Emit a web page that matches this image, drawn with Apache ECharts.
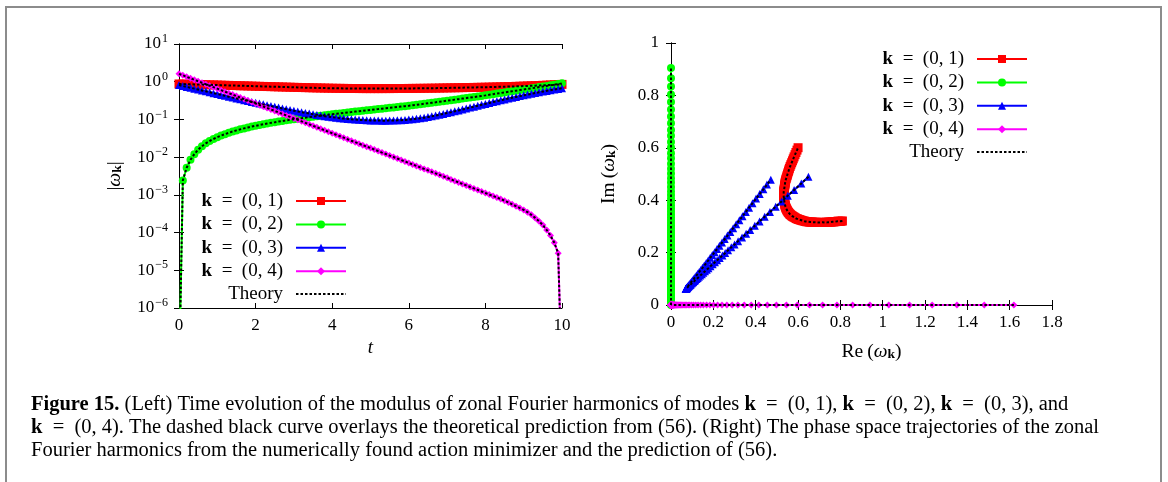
<!DOCTYPE html>
<html>
<head>
<meta charset="utf-8">
<script src="https://cdn.jsdelivr.net/npm/echarts@6/dist/echarts.min.js"></script>
<style>
  html, body { margin: 0; padding: 0; background: #fff; }
  #chart { width: 1168px; height: 482px; }
</style>
</head>
<body>
<div id="chart"></div>
<script>
// Sampling times t
const times = [
  0, 0.1, 0.2, 0.3, 0.4, 0.5, 0.6, 0.7, 0.8, 0.9,
  1, 1.1, 1.2, 1.3, 1.4, 1.5, 1.6, 1.7, 1.8, 1.9,
  2, 2.1, 2.2, 2.3, 2.4, 2.5, 2.6, 2.7, 2.8, 2.9,
  3, 3.1, 3.2, 3.3, 3.4, 3.5, 3.6, 3.7, 3.8, 3.9,
  4, 4.1, 4.2, 4.3, 4.4, 4.5, 4.6, 4.7, 4.8, 4.9,
  5, 5.1, 5.2, 5.3, 5.4, 5.5, 5.6, 5.7, 5.8, 5.9,
  6, 6.1, 6.2, 6.3, 6.4, 6.5, 6.6, 6.7, 6.8, 6.9,
  7, 7.1, 7.2, 7.3, 7.4, 7.5, 7.6, 7.7, 7.8, 7.9,
  8, 8.1, 8.2, 8.3, 8.4, 8.5, 8.6, 8.7, 8.8, 8.9,
  9, 9.1, 9.2, 9.3, 9.4, 9.5, 9.6, 9.7, 9.8, 9.9,
  10
];

// |omega_k| for k = (0,1)
const mod01 = [
  0.871, 0.865, 0.860, 0.854, 0.849, 0.843, 0.838, 0.832, 0.827, 0.821,
  0.816, 0.810, 0.804, 0.799, 0.793, 0.788, 0.782, 0.777, 0.771, 0.766,
  0.760, 0.755, 0.750, 0.745, 0.740, 0.735, 0.730, 0.725, 0.720, 0.715,
  0.710, 0.706, 0.701, 0.697, 0.693, 0.689, 0.685, 0.682, 0.678, 0.675,
  0.672, 0.669, 0.667, 0.665, 0.663, 0.661, 0.660, 0.659, 0.658, 0.657,
  0.657, 0.657, 0.657, 0.657, 0.658, 0.658, 0.659, 0.660, 0.661, 0.662,
  0.664, 0.665, 0.667, 0.668, 0.670, 0.672, 0.674, 0.676, 0.679, 0.682,
  0.685, 0.688, 0.691, 0.694, 0.697, 0.700, 0.703, 0.706, 0.709, 0.712,
  0.715, 0.719, 0.723, 0.728, 0.733, 0.738, 0.743, 0.748, 0.754, 0.759,
  0.765, 0.772, 0.779, 0.787, 0.795, 0.803, 0.811, 0.820, 0.829, 0.839,
  0.849
];
// phase of omega_k (degrees) for k = (0,1)
const phase01 = [
  21.6, 21.7, 21.8, 22.0, 22.1, 22.2, 22.3, 22.4, 22.6, 22.7,
  22.8, 23.0, 23.1, 23.3, 23.4, 23.6, 23.8, 23.9, 24.1, 24.3,
  24.5, 24.7, 24.9, 25.1, 25.3, 25.5, 25.7, 25.9, 26.2, 26.4,
  26.7, 27.0, 27.3, 27.6, 27.9, 28.2, 28.5, 28.8, 29.1, 29.5,
  29.9, 30.2, 30.5, 30.8, 31.1, 31.5, 31.8, 32.1, 32.5, 32.8,
  33.2, 33.5, 33.8, 34.1, 34.4, 34.7, 35.0, 35.2, 35.5, 35.7,
  36.0, 36.3, 36.6, 36.9, 37.2, 37.5, 37.8, 38.1, 38.4, 38.7,
  39.0, 39.2, 39.4, 39.6, 39.8, 40.0, 40.2, 40.4, 40.6, 40.8,
  41.0, 41.2, 41.4, 41.6, 41.8, 42.0, 42.2, 42.4, 42.6, 42.8,
  43.0, 43.2, 43.4, 43.6, 43.8, 44.0, 44.2, 44.4, 44.6, 44.8,
  45.0
];

// |omega_k| for k = (0,2)  (purely imaginary mode)
const mod02 = [
  1e-8, 0.00240, 0.00525, 0.00851, 0.0120, 0.0158, 0.0195, 0.0232, 0.0268, 0.0303,
  0.0339, 0.0373, 0.0407, 0.0443, 0.0478, 0.0512, 0.0546, 0.0579, 0.0612, 0.0646,
  0.0679, 0.0711, 0.0745, 0.0778, 0.0811, 0.0843, 0.0877, 0.0910, 0.0944, 0.0977,
  0.1012, 0.1045, 0.1079, 0.1114, 0.1148, 0.1183, 0.1219, 0.1256, 0.1294, 0.1330,
  0.1368, 0.1406, 0.1445, 0.1486, 0.1528, 0.1570, 0.1614, 0.1656, 0.1698, 0.1742,
  0.1786, 0.1832, 0.1879, 0.1928, 0.1977, 0.2028, 0.2080, 0.2133, 0.2188, 0.2244,
  0.2301, 0.2366, 0.2432, 0.2512, 0.2594, 0.2679, 0.2767, 0.2851, 0.2944, 0.3041,
  0.3141, 0.3243, 0.3350, 0.3451, 0.3565, 0.3681, 0.3802, 0.3926, 0.4055, 0.4198,
  0.4345, 0.4508, 0.4677, 0.4842, 0.5023, 0.5200, 0.5395, 0.5598, 0.5794, 0.6012,
  0.6223, 0.6457, 0.6683, 0.6934, 0.7194, 0.7464, 0.7745, 0.8035, 0.8337, 0.8650,
  0.905
];

// |omega_k| for k = (0,3)
const mod03 = [
  0.813, 0.771, 0.729, 0.692, 0.655, 0.621, 0.587, 0.556, 0.526, 0.498,
  0.471, 0.447, 0.423, 0.400, 0.379, 0.360, 0.341, 0.324, 0.308, 0.292,
  0.277, 0.264, 0.251, 0.238, 0.226, 0.216, 0.206, 0.196, 0.187, 0.178,
  0.170, 0.163, 0.156, 0.149, 0.143, 0.137, 0.132, 0.127, 0.122, 0.118,
  0.1146, 0.1112, 0.1081, 0.1054, 0.1030, 0.1009, 0.0991, 0.0975, 0.0961, 0.0951,
  0.0942, 0.0935, 0.0931, 0.0929, 0.0929, 0.0931, 0.0938, 0.0946, 0.0955, 0.0970,
  0.0989, 0.1012, 0.1040, 0.1074, 0.1114, 0.1159, 0.1208, 0.1265, 0.1327, 0.1396,
  0.1472, 0.1552, 0.1641, 0.1734, 0.1832, 0.1941, 0.2056, 0.2178, 0.2307, 0.2443,
  0.2582, 0.2729, 0.2884, 0.3048, 0.3214, 0.3388, 0.3573, 0.3758, 0.3954, 0.4150,
  0.4355, 0.4571, 0.4786, 0.5012, 0.5236, 0.5470, 0.5715, 0.5957, 0.6209, 0.6457,
  0.6714
];
// phase of omega_k (degrees) for k = (0,3)
const phase03 = [
  37.0, 37.0, 37.05, 37.1, 37.1, 37.2, 37.2, 37.25, 37.3, 37.35,
  37.4, 37.45, 37.5, 37.55, 37.6, 37.7, 37.75, 37.8, 37.9, 38.0,
  38.1, 38.2, 38.3, 38.4, 38.5, 38.6, 38.7, 38.8, 38.9, 39.05,
  39.2, 39.3, 39.4, 39.5, 39.6, 39.8, 39.9, 40.0, 40.1, 40.25,
  40.4, 40.5, 40.6, 40.7, 40.8, 40.9, 40.95, 41.0, 41.05, 41.1,
  41.1, 41.15, 41.2, 41.2, 41.25, 41.3, 41.3, 41.35, 41.4, 41.4,
  41.45, 41.6, 41.75, 41.9, 42.05, 42.2, 42.3, 42.45, 42.55, 42.7,
  42.8, 42.95, 43.1, 43.25, 43.4, 43.55, 43.65, 43.8, 43.9, 44.05,
  44.2, 44.3, 44.4, 44.5, 44.6, 44.7, 44.75, 44.8, 44.9, 44.95,
  45.0, 45.05, 45.1, 45.15, 45.2, 45.25, 45.3, 45.3, 45.35, 45.4,
  45.4
];

// |omega_k| for k = (0,4)  (purely real mode)
const mod04 = [
  1.62, 1.48, 1.351, 1.234, 1.127, 1.029, 0.940, 0.858, 0.784, 0.716,
  0.654, 0.597, 0.545, 0.498, 0.455, 0.415, 0.379, 0.346, 0.316, 0.289,
  0.264, 0.241, 0.220, 0.201, 0.184, 0.168, 0.153, 0.140, 0.128, 0.117,
  0.1066, 0.0974, 0.0889, 0.0812, 0.0742, 0.0677, 0.0619, 0.0565, 0.0516, 0.0471,
  0.0430, 0.0393, 0.0359, 0.0328, 0.0299, 0.0273, 0.0250, 0.0228, 0.0208, 0.0190,
  0.0174, 0.0159, 0.0145, 0.0132, 0.0121, 0.0110, 0.0101, 0.00921, 0.00841, 0.00768,
  0.00702, 0.00641, 0.00585, 0.00534, 0.00488, 0.00446, 0.00407, 0.00372, 0.00340, 0.00310,
  0.00283, 0.00257, 0.00234, 0.00214, 0.00195, 0.00178, 0.00162, 0.00148, 0.00135, 0.00123,
  0.00112, 0.00102, 0.000933, 0.000851, 0.000776, 0.000700, 0.000631, 0.000562, 0.000501, 0.000447,
  0.000398, 0.000347, 0.000295, 0.000245, 0.000200, 0.000158, 0.000117, 0.0000832, 0.0000537, 0.0000282,
  1e-8
];

const modeNames = ['k = (0, 1)', 'k = (0, 2)', 'k = (0, 3)', 'k = (0, 4)'];
const modeColors = ['#ff0000', '#00ff00', '#0000ff', '#ff00ff'];
const modeSymbols = ['rect', 'circle', 'triangle', 'diamond'];
const modeSymbolSizes = [9, 8, 8, 7];

const serif = 'Liberation Serif';
const DEG = Math.PI / 180;

// complex trajectories in the (Re, Im) plane
const plane01 = times.map((_, i) => [mod01[i] * Math.cos(phase01[i] * DEG), mod01[i] * Math.sin(phase01[i] * DEG)]);
const plane02 = times.map((_, i) => [0, mod02[i]]);
const plane03 = times.map((_, i) => [mod03[i] * Math.cos(phase03[i] * DEG), mod03[i] * Math.sin(phase03[i] * DEG)]);
const plane04 = times.map((_, i) => [mod04[i], 0]);

const moduli = [mod01, mod02, mod03, mod04];
const planes = [plane01, plane02, plane03, plane04];

const series = [];
function addPanel(xIdx, yIdx, dataSets) {
  dataSets.forEach((d, k) => {
    series.push({
      type: 'line', name: modeNames[k], xAxisIndex: xIdx, yAxisIndex: yIdx,
      data: d,
      symbol: modeSymbols[k], symbolSize: modeSymbolSizes[k],
      itemStyle: { color: modeColors[k] },
      lineStyle: { color: modeColors[k], width: 2 },
      z: 2 + k
    });
  });
  // theoretical prediction drawn as a dotted black overlay
  dataSets.forEach((d) => {
    series.push({
      type: 'line', name: 'Theory', xAxisIndex: xIdx, yAxisIndex: yIdx,
      data: d,
      symbol: 'none', itemStyle: { color: '#000' },
      lineStyle: { color: '#000', width: 2, type: [2.5, 2] },
      z: 10
    });
  });
}
// left panel: modulus vs time
addPanel(0, 0, moduli.map((m) => times.map((t, i) => [t, m[i]])));
// right panel: phase-space trajectories
addPanel(2, 2, planes);

const tickLabel = { fontFamily: serif, fontSize: 17, color: '#000' };
const axisLineStyle = { lineStyle: { color: '#000', width: 1 } };
const innerTick = { show: true, inside: true, length: 5, lineStyle: { color: '#000', width: 1 } };

function powerLabel(v) {
  const e = Math.round(Math.log10(v));
  const s = e < 0 ? '\u2212' + (-e) : String(e);
  return '{b|10}{e|' + s + '}';
}
const powerRich = {
  b: { fontFamily: serif, fontSize: 17, color: '#000' },
  e: { fontFamily: serif, fontSize: 12, color: '#000', padding: [0, 0, 10, 1] }
};
const decimalLabel = (v) => String(Math.round(v * 10) / 10);

const nameRich = {
  r: { fontFamily: serif, fontSize: 19.5, color: '#000' },
  w: { fontFamily: serif, fontSize: 19.5, fontStyle: 'italic', color: '#000' },
  k: { fontFamily: serif, fontSize: 13.5, fontWeight: 'bold', color: '#000', padding: [7, 0, 0, 0] },
  t: { fontFamily: serif, fontSize: 19, fontStyle: 'italic', color: '#000' }
};

const legendRich = {
  kb: { fontFamily: serif, fontSize: 19, fontWeight: 'bold', color: '#000' },
  m: { fontFamily: serif, fontSize: 19, color: '#000', padding: [0, 8, 0, 0] },
  th: { fontFamily: serif, fontSize: 19, color: '#000', padding: [0, 8, 0, 0] }
};
function legendText(name) {
  if (name === 'Theory') return '{th|Theory}';
  return '{kb|k}{m|' + name.slice(1).replace(' = ', '\u2002=\u2002') + '}';
}
function makeLegend(names, right, top, lineOnly) {
  const lg = {
    data: names, orient: 'vertical', right: right, top: top, padding: 0,
    align: 'right', itemWidth: 50, itemHeight: 10, itemGap: 3.4,
    selectedMode: false, formatter: legendText,
    textStyle: { rich: legendRich, lineHeight: 20 }
  };
  if (lineOnly) lg.itemStyle = { opacity: 0 };
  return lg;
}

const captionRich = {
  n: { fontFamily: serif, fontSize: 20.5, color: '#231f20' },
  b: { fontFamily: serif, fontSize: 20.5, fontWeight: 'bold', color: '#231f20' },
  l: { fontFamily: serif, fontSize: 20.5, color: '#2a8ccd' }
};
const eq = '\u2002=\u2002';
const captionLines = [
  '{b|Figure 15.}{n| (Left) Time evolution of the modulus of zonal Fourier harmonics of modes }{b|k}{n|' + eq + '(0, 1), }{b|k}{n|' + eq + '(0, 2), }{b|k}{n|' + eq + '(0, 3), and}',
  '{b|k}{n|' + eq + '(0, 4). The dashed black curve overlays the theoretical prediction from (}{l|56}{n|). (Right) The phase space trajectories of the zonal}',
  '{n|Fourier harmonics from the numerically found action minimizer and the prediction of (}{l|56}{n|).}'
];

const chart = echarts.init(document.getElementById('chart'), null, { renderer: 'canvas' });
chart.setOption({
  animation: false,
  backgroundColor: '#fff',
  grid: [
    { left: 179, top: 44, width: 383, height: 264, containLabel: false, outerBoundsMode: 'none' },
    { left: 671, top: 43, width: 381, height: 262, containLabel: false, outerBoundsMode: 'none' }
  ],
  xAxis: [
    {
      gridIndex: 0, type: 'value', position: 'bottom', min: 0, max: 10, interval: 2,
      axisLine: axisLineStyle, axisTick: innerTick, splitLine: { show: false },
      axisLabel: Object.assign({ margin: 9 }, tickLabel),
      name: '{t|t}', nameLocation: 'middle', nameGap: 26, nameTextStyle: { rich: nameRich }
    },
    {
      gridIndex: 0, type: 'value', position: 'top', min: 0, max: 10, interval: 2,
      axisLine: axisLineStyle, axisTick: innerTick, splitLine: { show: false }, axisLabel: { show: false }
    },
    {
      gridIndex: 1, type: 'value', position: 'bottom', min: 0, max: 1.8, interval: 0.2,
      axisLine: axisLineStyle, axisTick: innerTick, splitLine: { show: false },
      axisLabel: Object.assign({ margin: 9, formatter: decimalLabel }, tickLabel),
      name: '{r|Re\u2009(}{w|\u03c9}{k|k}{r|)}', nameLocation: 'middle', nameGap: 36,
      nameTextStyle: { rich: nameRich, padding: [0, 0, 0, 20] }
    },
    {
      gridIndex: 1, type: 'value', position: 'top', min: 0, max: 1.8, interval: 0.2,
      axisLine: axisLineStyle, axisTick: innerTick, splitLine: { show: false }, axisLabel: { show: false }
    }
  ],
  yAxis: [
    {
      gridIndex: 0, type: 'log', logBase: 10, position: 'left', min: 1e-6, max: 10,
      axisLine: axisLineStyle, axisTick: innerTick, splitLine: { show: false },
      axisLabel: { margin: 11, formatter: powerLabel, rich: powerRich },
      name: '{r||}{w|\u03c9}{k|k}{r||}', nameLocation: 'middle', nameRotate: 90, nameGap: 54,
      nameTextStyle: { rich: nameRich }
    },
    {
      gridIndex: 0, type: 'log', logBase: 10, position: 'right', min: 1e-6, max: 10,
      axisLine: axisLineStyle, axisTick: innerTick, splitLine: { show: false }, axisLabel: { show: false }
    },
    {
      gridIndex: 1, type: 'value', position: 'left', min: 0, max: 1, interval: 0.2,
      axisLine: axisLineStyle, axisTick: innerTick, splitLine: { show: false },
      axisLabel: Object.assign({ margin: 12, formatter: decimalLabel }, tickLabel),
      name: '{r|Im\u2009(}{w|\u03c9}{k|k}{r|)}', nameLocation: 'middle', nameRotate: 90, nameGap: 52,
      nameTextStyle: { rich: nameRich }
    },
    {
      gridIndex: 1, type: 'value', position: 'right', min: 0, max: 1, interval: 0.2,
      axisLine: axisLineStyle, axisTick: innerTick, splitLine: { show: false }, axisLabel: { show: false }
    }
  ],
  legend: [
    makeLegend(modeNames, 821, 191, false),
    makeLegend(['Theory'], 821, 284, true),
    makeLegend(modeNames, 140, 49, false),
    makeLegend(['Theory'], 140, 142, true)
  ],
  graphic: [
    {
      type: 'rect', silent: true, z: 0,
      shape: { x: 6, y: 7, width: 1155, height: 600 },
      style: { fill: 'none', stroke: '#8c8c8c', lineWidth: 2 }
    },
    ...captionLines.map((line, i) => ({
      type: 'text', silent: true, x: 31, y: 405 + i * 23,
      style: { text: line, rich: captionRich, verticalAlign: 'middle', align: 'left' }
    }))
  ],
  series: series
});
</script>
</body>
</html>
